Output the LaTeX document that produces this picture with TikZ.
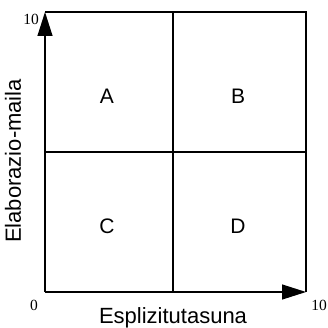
\documentclass[tikz,border=0pt]{standalone}
\usepackage{fontspec}
\setmainfont{Liberation Serif}
\setsansfont{Liberation Sans}
\usetikzlibrary{arrows.meta}
\begin{document}
\begin{tikzpicture}[x=1pt,y=-1pt,
  frame/.style={line width=1.2pt,black},
  axis/.style={line width=1.2pt,black,-{Triangle[length=24pt,width=15pt]}},
  quad/.style={font=\sffamily\fontsize{21}{21}\selectfont,inner sep=0pt},
  axlabel/.style={font=\sffamily\fontsize{22}{22}\selectfont,inner sep=0pt},
  num/.style={font=\fontsize{15.5}{15.5}\selectfont,inner sep=0pt}]
\useasboundingbox (0,0) rectangle (327,328);
\coordinate (O) at (45,292);
\coordinate (Y) at (45,12);
\coordinate (X) at (306,292);
\coordinate (TR) at (306,12);
\coordinate (TM) at (173,12);
\coordinate (BM) at (173,292);
\coordinate (LM) at (45,152);
\coordinate (RM) at (306,152);
\draw[frame] (Y) -- (TR) -- (X);
\draw[frame] (TM) -- (BM);
\draw[frame] (LM) -- (RM);
\draw[axis] (O) -- (Y);
\draw[axis] (O) -- (X);
\node[quad] (A) at (107,96) {A};
\node[quad] (B) at (238,96) {B};
\node[quad] (C) at (107,226) {C};
\node[quad] (D) at (238,226) {D};
\node[num] (n10y) at (31,19.5) {10};
\node[num] (n0) at (34,305) {0};
\node[num] (n10x) at (319,305) {10};
\node[axlabel] (xl) at (173,318) {Esplizitutasuna};
\node[axlabel,rotate=90] (yl) at (13,161) {Elaborazio-maila};
\end{tikzpicture}
\end{document}
